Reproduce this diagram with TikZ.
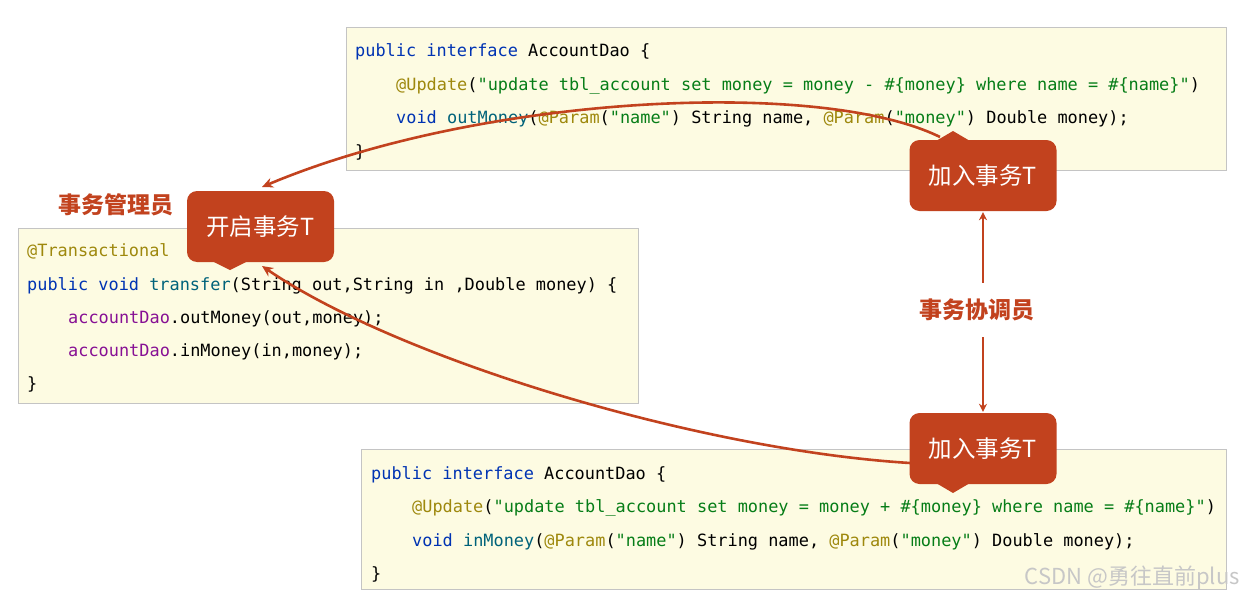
\documentclass[tikz,border=0pt]{standalone}
\usepackage{fontspec}
\usetikzlibrary{arrows.meta,calc}
\newfontfamily\cjk{Noto Sans CJK SC}
\newfontfamily\codefont{DejaVu Sans Mono}
\definecolor{boxfill}{HTML}{FDFBE2}
\definecolor{boxline}{HTML}{C4C4C4}
\definecolor{calred}{HTML}{C2421E}
\definecolor{kwc}{HTML}{0033B3}
\definecolor{fnc}{HTML}{00627A}
\definecolor{anc}{HTML}{9E880D}
\definecolor{stc}{HTML}{067D17}
\definecolor{fdc}{HTML}{871094}
\newcommand\ckw[1]{\textcolor{kwc}{#1}}
\newcommand\cfn[1]{\textcolor{fnc}{#1}}
\newcommand\can[1]{\textcolor{anc}{#1}}
\newcommand\cst[1]{\textcolor{stc}{#1}}
\newcommand\cfd[1]{\textcolor{fdc}{#1}}
\tikzset{
  codebox/.style={draw=boxline, fill=boxfill, line width=0.8pt, inner sep=0, anchor=north west},
  code/.style={anchor=base west, inner sep=0, font=\codefont\fontsize{16.9}{20}\selectfont},
  callout/.style={fill=calred, rounded corners=10pt, minimum width=147pt, minimum height=71pt, text=white, font=\cjk\fontsize{23.5}{26}\selectfont, inner sep=0},
  rlabel/.style={text=calred, font=\cjk\bfseries\fontsize{23}{26}\selectfont, inner sep=0},
  arr/.style={draw=calred, line width=2.6pt, -{Stealth[length=11pt,width=10pt]}},
  varr/.style={draw=calred, line width=2.6pt, -{Stealth[length=8pt,width=8pt]}}
}
\begin{document}
\begin{tikzpicture}[x=1pt,y=-1pt]
\useasboundingbox[fill=white] (0,0) rectangle (1243,597);
% code boxes
\node[codebox, minimum width=880pt, minimum height=143pt] (topbox) at (346,27) {};
\node[codebox, minimum width=620pt, minimum height=175pt] (leftbox) at (18,228) {};
\node[codebox, minimum width=865pt, minimum height=140pt] (botbox) at (361,449) {};
% top code
\node[code] (t1) at (355,56) {\ckw{public} \ckw{interface} AccountDao \{};
\node[code] (t2) at (396,90) {\can{@Update}(\cst{"update tbl\_account set money = money - \#\{money\} where name = \#\{name\}"})};
\node[code] (t3) at (396,123) {\ckw{void} \cfn{outMoney}(\can{@Param}(\cst{"name"}) String name, \can{@Param}(\cst{"money"}) Double money);};
\node[code] (t4) at (355,157) {\}};
% left code
\node[code] (l1) at (27,256) {\can{@Transactional}};
\node[code] (l2) at (27,290) {\ckw{public} \ckw{void} \cfn{transfer}(String out,String in ,Double money) \{};
\node[code] (l3) at (68,323) {\cfd{accountDao}.outMoney(out,money);};
\node[code] (l4) at (68,356) {\cfd{accountDao}.inMoney(in,money);};
\node[code] (l5) at (27,389) {\}};
% bottom code
\node[code] (b1) at (371,479) {\ckw{public} \ckw{interface} AccountDao \{};
\node[code] (b2) at (412,512) {\can{@Update}(\cst{"update tbl\_account set money = money + \#\{money\} where name = \#\{name\}"})};
\node[code] (b3) at (412,546) {\ckw{void} \cfn{inMoney}(\can{@Param}(\cst{"name"}) String name, \can{@Param}(\cst{"money"}) Double money);};
\node[code] (b4) at (371,579) {\}};
% labels
\node[rlabel] (mgr) at (116,205) {事务管理员};
\node[rlabel, minimum height=54pt] (coord) at (977,310) {事务协调员};
% callout coordinates
\coordinate (p1) at (940,137);
\coordinate (p2) at (910,463);
\coordinate (ksEnd) at (262,187);
\coordinate (ksEnd2) at (262,266);
% curves
\draw[arr] (p1) .. controls (820,78) and (480,95) .. (ksEnd);
\draw[arr] (p2) .. controls (700,450) and (400,360) .. (ksEnd2);
% callouts
\node[callout] (ks) at (260.5,226.5) {开启事务T};
\fill[calred] (212,261) -- (230,270) -- (248,261) -- cycle;
\node[callout] (j1) at (983,175.5) {加入事务T};
\fill[calred] (936,141) -- (953,131) -- (970,141) -- cycle;
\node[callout] (j2) at (983,448.5) {加入事务T};
\fill[calred] (936,483) -- (953,493) -- (970,483) -- cycle;
% vertical arrows
\draw[varr] (j1.south |- coord.north) -- ([yshift=-1pt]j1.south);
\draw[varr] (j2.north |- coord.south) -- ([yshift=1pt]j2.north);
% watermark
\node[anchor=east, text=black!22, font=\cjk\fontsize{22}{24}\selectfont, inner sep=0] (wm) at (1240,578) {CSDN @勇往直前plus};
\end{tikzpicture}
\end{document}
